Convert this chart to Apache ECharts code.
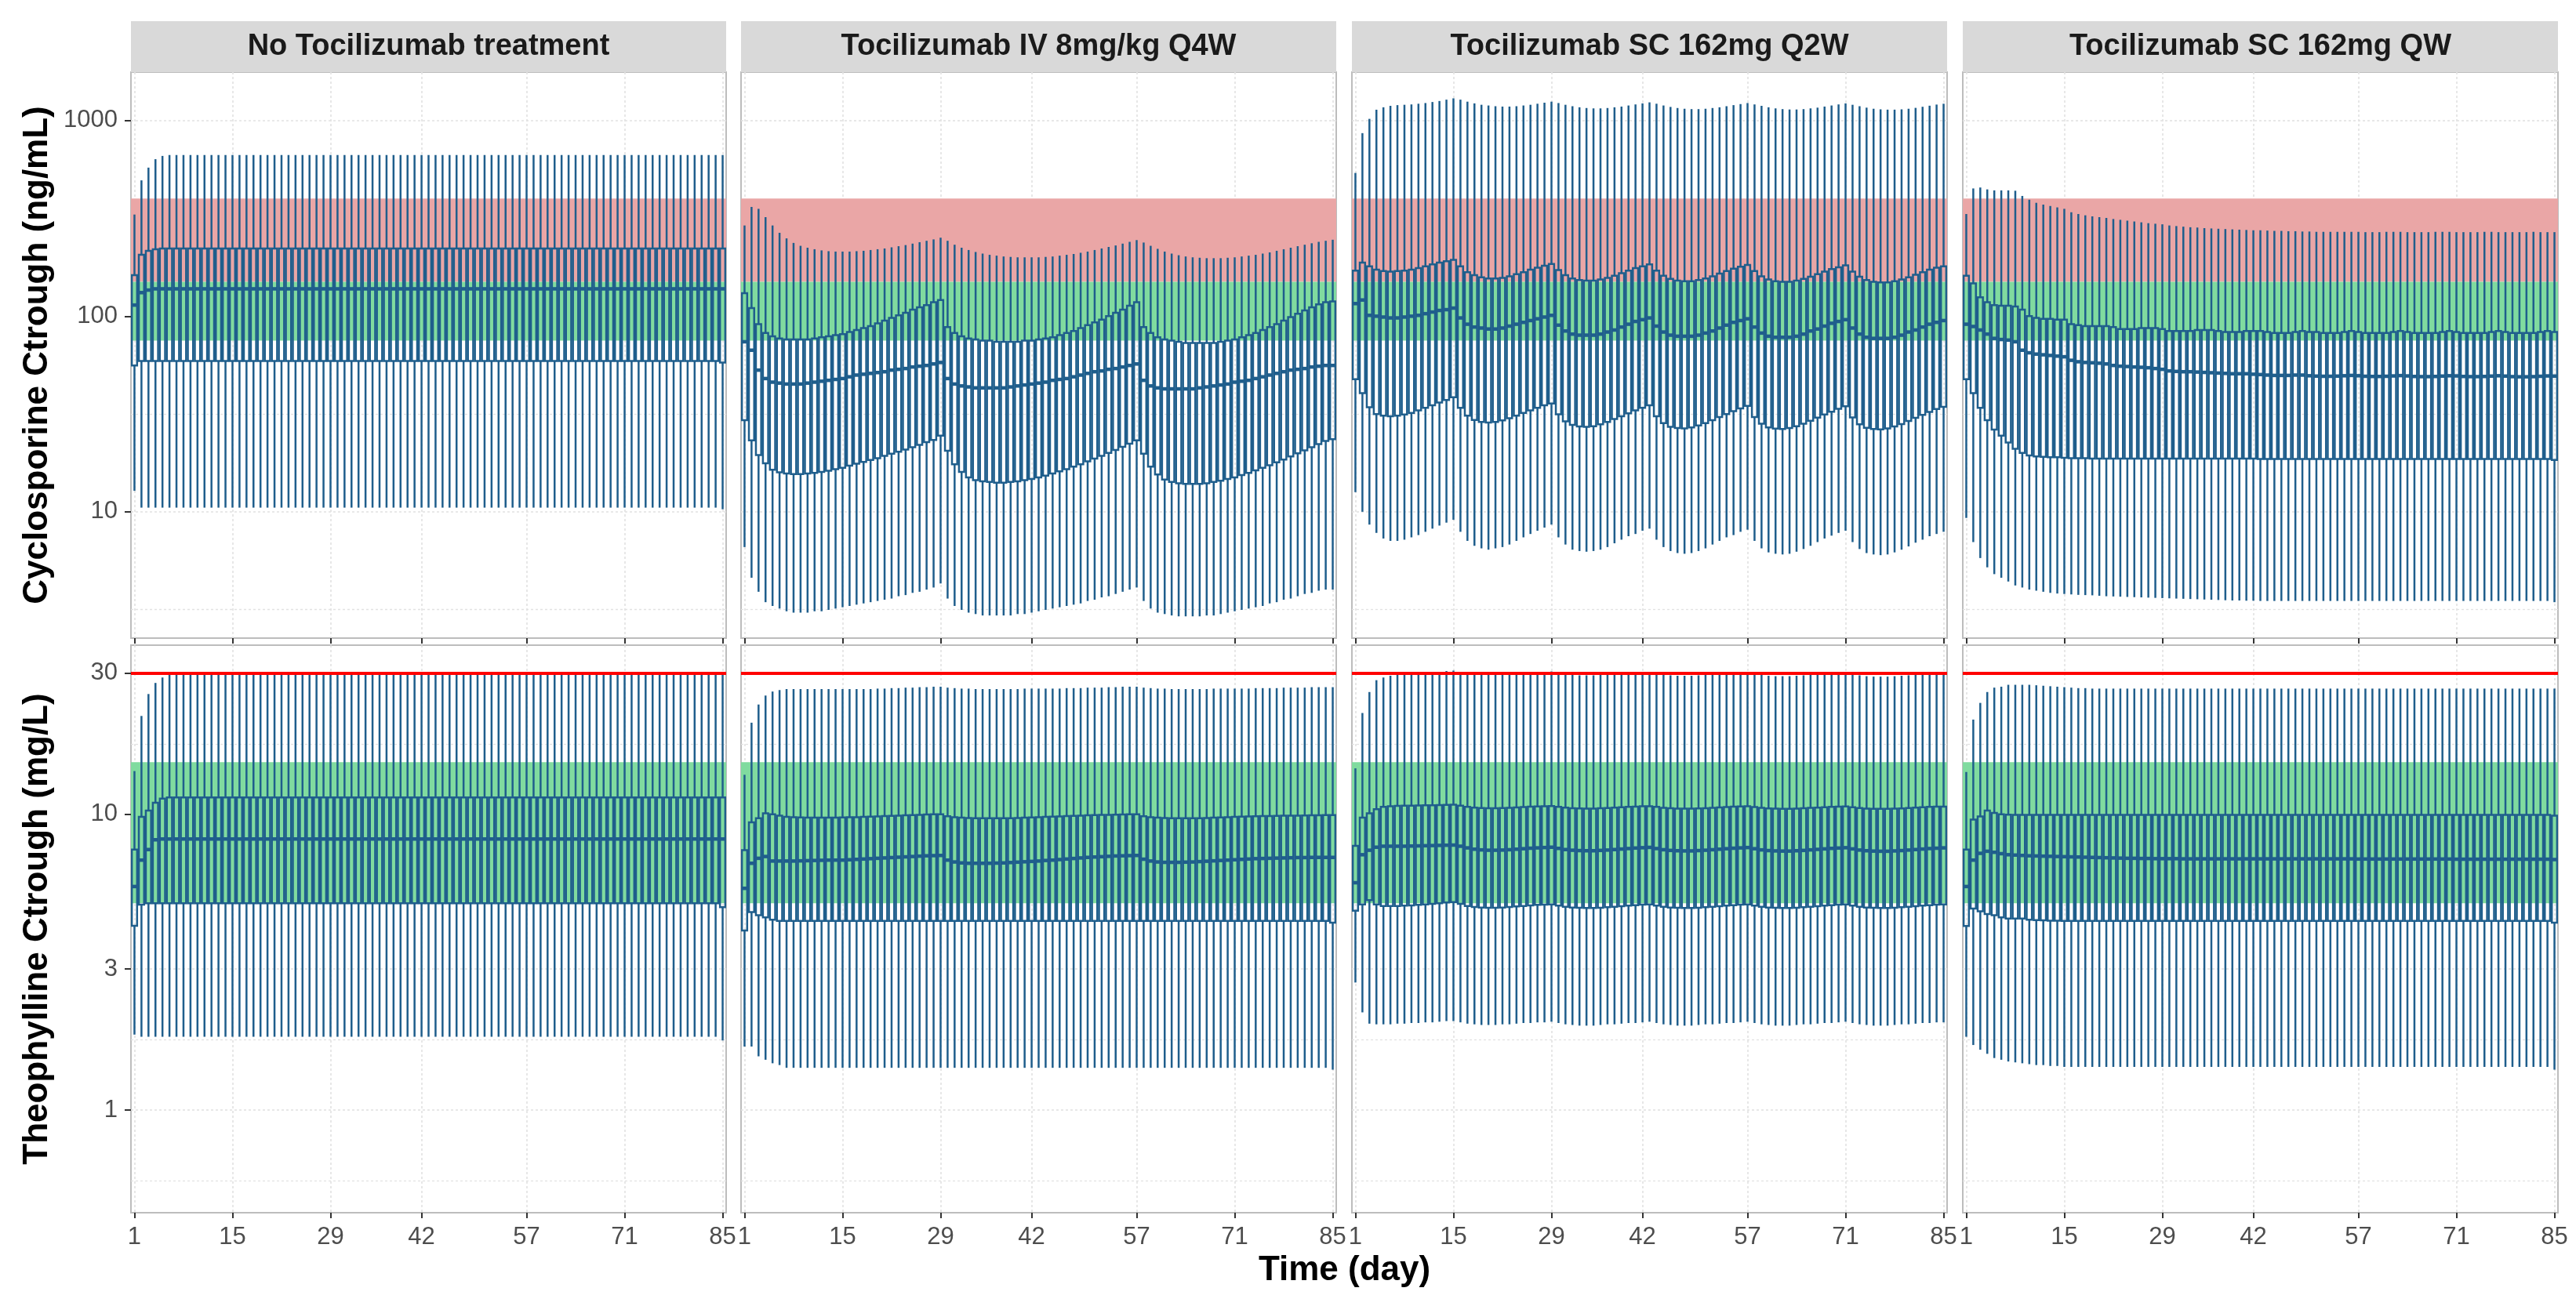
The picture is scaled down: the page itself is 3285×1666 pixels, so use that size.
<!DOCTYPE html>
<html>
<head>
<meta charset="utf-8">
<title>Cyclosporine and Theophylline Ctrough by Tocilizumab regimen</title>
<script src="https://cdn.jsdelivr.net/npm/echarts@6/dist/echarts.min.js"></script>
<style>
  html, body { margin: 0; padding: 0; background: #fff; }
  #chart { width: 3285px; height: 1666px; }
</style>
</head>
<body>
<div id="chart"></div>
<script>
// x categories (study day) and axis breaks
const days = [
  1, 2, 3, 4, 5, 6, 7, 8, 9, 10, 11, 12, 13, 14,
  15, 16, 17, 18, 19, 20, 21, 22, 23, 24, 25, 26, 27, 28,
  29, 30, 31, 32, 33, 34, 35, 36, 37, 38, 39, 40, 41, 42,
  43, 44, 45, 46, 47, 48, 49, 50, 51, 52, 53, 54, 55, 56,
  57, 58, 59, 60, 61, 62, 63, 64, 65, 66, 67, 68, 69, 70,
  71, 72, 73, 74, 75, 76, 77, 78, 79, 80, 81, 82, 83, 84,
  85
]
const dayTicks = [1, 15, 29, 42, 57, 71, 85]
const cycTicks = [10, 100, 1000]
const cycMinorBreaks = [3.16, 31.6, 316]
const theoTicks = [1, 3, 10, 30]
const theoMinorBreaks = [0.577, 1.73, 5.48, 17.3]
const treatments = [
  'No Tocilizumab treatment',
  'Tocilizumab IV 8mg/kg Q4W',
  'Tocilizumab SC 162mg Q2W',
  'Tocilizumab SC 162mg QW'
]
// reference ranges
const cycToxicRange = [150, 400]
const cycTherapeuticRange = [75, 150]
const theoTherapeuticRange = [5, 15]
const theoToxicLimit = 30

// ---- Cyclosporine Ctrough (ng/mL): whisker low, Q1, median, Q3, whisker high ----
// No Tocilizumab
const cycNoneLo = [
  12.8, 10.5, 10.5, 10.5, 10.5, 10.5, 10.5, 10.5, 10.5, 10.5, 10.5, 10.5, 10.5, 10.5,
  10.5, 10.5, 10.5, 10.5, 10.5, 10.5, 10.5, 10.5, 10.5, 10.5, 10.5, 10.5, 10.5, 10.5,
  10.5, 10.5, 10.5, 10.5, 10.5, 10.5, 10.5, 10.5, 10.5, 10.5, 10.5, 10.5, 10.5, 10.5,
  10.5, 10.5, 10.5, 10.5, 10.5, 10.5, 10.5, 10.5, 10.5, 10.5, 10.5, 10.5, 10.5, 10.5,
  10.5, 10.5, 10.5, 10.5, 10.5, 10.5, 10.5, 10.5, 10.5, 10.5, 10.5, 10.5, 10.5, 10.5,
  10.5, 10.5, 10.5, 10.5, 10.5, 10.5, 10.5, 10.5, 10.5, 10.5, 10.5, 10.5, 10.5, 10.5,
  10.3
]
const cycNoneQ1 = [
  56, 59, 59, 59, 59, 59, 59, 59, 59, 59, 59, 59, 59, 59,
  59, 59, 59, 59, 59, 59, 59, 59, 59, 59, 59, 59, 59, 59,
  59, 59, 59, 59, 59, 59, 59, 59, 59, 59, 59, 59, 59, 59,
  59, 59, 59, 59, 59, 59, 59, 59, 59, 59, 59, 59, 59, 59,
  59, 59, 59, 59, 59, 59, 59, 59, 59, 59, 59, 59, 59, 59,
  59, 59, 59, 59, 59, 59, 59, 59, 59, 59, 59, 59, 59, 59,
  58
]
const cycNoneMed = [
  114, 132, 136, 138, 138, 138, 138, 138, 138, 138, 138, 138, 138, 138,
  138, 138, 138, 138, 138, 138, 138, 138, 138, 138, 138, 138, 138, 138,
  138, 138, 138, 138, 138, 138, 138, 138, 138, 138, 138, 138, 138, 138,
  138, 138, 138, 138, 138, 138, 138, 138, 138, 138, 138, 138, 138, 138,
  138, 138, 138, 138, 138, 138, 138, 138, 138, 138, 138, 138, 138, 138,
  138, 138, 138, 138, 138, 138, 138, 138, 138, 138, 138, 138, 138, 138,
  138
]
const cycNoneQ3 = [
  162, 206, 216, 220, 222, 222, 222, 222, 222, 222, 222, 222, 222, 222,
  222, 222, 222, 222, 222, 222, 222, 222, 222, 222, 222, 222, 222, 222,
  222, 222, 222, 222, 222, 222, 222, 222, 222, 222, 222, 222, 222, 222,
  222, 222, 222, 222, 222, 222, 222, 222, 222, 222, 222, 222, 222, 222,
  222, 222, 222, 222, 222, 222, 222, 222, 222, 222, 222, 222, 222, 222,
  222, 222, 222, 222, 222, 222, 222, 222, 222, 222, 222, 222, 222, 222,
  222
]
const cycNoneHi = [
  331, 495, 575, 635, 660, 667, 667, 667, 667, 667, 667, 667, 667, 667,
  667, 667, 667, 667, 667, 667, 667, 667, 667, 667, 667, 667, 667, 667,
  667, 667, 667, 667, 667, 667, 667, 667, 667, 667, 667, 667, 667, 667,
  667, 667, 667, 667, 667, 667, 667, 667, 667, 667, 667, 667, 667, 667,
  667, 667, 667, 667, 667, 667, 667, 667, 667, 667, 667, 667, 667, 667,
  667, 667, 667, 667, 667, 667, 667, 667, 667, 667, 667, 667, 667, 667,
  667
]
// Tocilizumab IV 8mg/kg Q4W
const cycIvLo = [
  6.6, 4.6, 3.9, 3.45, 3.3, 3.2, 3.1, 3.05, 3.05, 3.05, 3.1, 3.1, 3.15, 3.2,
  3.25, 3.3, 3.35, 3.4, 3.45, 3.5, 3.55, 3.6, 3.7, 3.75, 3.85, 3.9, 4.0, 4.1,
  4.3, 3.6, 3.3, 3.15, 3.05, 3.0, 2.95, 2.95, 2.95, 2.95, 2.95, 3.0, 3.0, 3.05,
  3.1, 3.15, 3.2, 3.25, 3.3, 3.35, 3.4, 3.5, 3.55, 3.65, 3.7, 3.8, 3.9, 4.0,
  4.1, 3.5, 3.2, 3.05, 3.0, 2.95, 2.92, 2.92, 2.92, 2.92, 2.95, 2.95, 3.0, 3.05,
  3.1, 3.15, 3.2, 3.25, 3.3, 3.4, 3.45, 3.55, 3.6, 3.7, 3.8, 3.85, 3.95, 4.0,
  4.0
]
const cycIvQ1 = [
  29.4, 23.2, 19.5, 17.7, 16.4, 15.9, 15.7, 15.6, 15.6, 15.7, 15.8, 16.0, 16.2, 16.5,
  16.8, 17.2, 17.6, 18.0, 18.4, 18.8, 19.3, 19.8, 20.3, 20.8, 21.4, 22.0, 22.7, 23.3,
  24.5, 20.5, 17.5, 16.0, 15.0, 14.5, 14.3, 14.2, 14.1, 14.1, 14.2, 14.3, 14.5, 14.7,
  15.0, 15.3, 15.7, 16.1, 16.5, 17.0, 17.5, 18.1, 18.7, 19.3, 20.0, 20.7, 21.5, 22.3,
  23.2, 19.8, 17.0, 15.5, 14.6, 14.2, 14.0, 13.9, 13.9, 13.9, 14.0, 14.2, 14.4, 14.7,
  15.0, 15.4, 15.8, 16.3, 16.8, 17.3, 17.9, 18.5, 19.2, 19.9, 20.6, 21.4, 22.2, 23.0,
  23.5
]
const cycIvMed = [
  74, 67, 53, 48, 46, 45.5, 45, 45, 45, 45.5, 46, 46.5, 47, 47.5,
  48, 49, 50, 50.5, 51, 51.5, 52, 53, 53.5, 54, 55, 55.5, 56, 57,
  58, 48, 45, 44, 43.5, 43, 43, 43, 43, 43, 43.5, 44, 44.5, 45,
  45.5, 46, 47, 47.5, 48, 49, 50, 51, 52, 52.5, 53.5, 54, 55, 56,
  57, 47, 44, 43, 42.5, 42.5, 42.5, 42.5, 42.5, 43, 43.5, 44, 44.5, 45,
  46, 46.5, 47, 48, 49, 50, 51, 52, 53, 53.5, 54, 55, 55.5, 56,
  56
]
const cycIvQ3 = [
  131, 110, 91, 82, 79, 77, 76, 76, 76, 76, 77, 78, 79, 80,
  81, 83, 85, 87, 89, 92, 95, 98, 101, 104, 108, 111, 114, 118,
  121, 88, 82, 79, 77, 76, 75, 75, 74, 74, 74, 74, 75, 75,
  76, 77, 78, 80, 82, 84, 87, 90, 93, 96, 100, 104, 108, 113,
  118, 88, 82, 78, 76, 75, 74, 73, 73, 73, 73, 73, 74, 75,
  76, 78, 80, 82, 85, 88, 91, 95, 99, 103, 107, 111, 115, 118,
  119
]
const cycIvHi = [
  291, 362, 354, 321, 291, 267, 250, 237, 229, 224, 220, 217, 215, 214,
  214, 214, 215, 216, 218, 220, 222, 225, 228, 231, 235, 239, 243, 247,
  252, 243, 232, 224, 218, 213, 209, 206, 204, 202, 201, 200, 200, 200,
  200, 201, 202, 204, 206, 208, 211, 214, 218, 222, 226, 230, 235, 240,
  245, 238, 229, 221, 214, 209, 205, 202, 200, 199, 198, 198, 198, 199,
  200, 202, 204, 206, 209, 212, 216, 220, 224, 228, 232, 236, 240, 243,
  246
]
// Tocilizumab SC 162mg Q2W
const cycQ2wLo = [
  12.6, 10.0, 8.6, 7.8, 7.3, 7.1, 7.1, 7.2, 7.4, 7.6, 7.9, 8.2, 8.5, 8.8,
  9.1, 7.9, 7.1, 6.7, 6.5, 6.4, 6.5, 6.6, 6.8, 7.1, 7.4, 7.7, 8.0, 8.3,
  8.6, 7.4, 6.8, 6.4, 6.3, 6.25, 6.3, 6.4, 6.6, 6.9, 7.2, 7.5, 7.7, 8.0,
  8.2, 7.2, 6.6, 6.3, 6.15, 6.1, 6.15, 6.3, 6.5, 6.8, 7.1, 7.4, 7.6, 7.9,
  8.1, 7.1, 6.5, 6.2, 6.1, 6.05, 6.1, 6.25, 6.45, 6.7, 7.0, 7.3, 7.55, 7.8,
  8.0, 7.0, 6.45, 6.15, 6.05, 6.0, 6.05, 6.2, 6.4, 6.65, 6.95, 7.2, 7.5, 7.7,
  7.9
]
const cycQ2wQ1 = [
  47.6, 40.4, 34.2, 31.6, 31.0, 30.8, 31.0, 31.4, 32.0, 33.0, 34.0, 35.0, 36.2, 37.3,
  38.5, 34.0, 31.0, 29.5, 28.8, 28.6, 28.8, 29.3, 30.1, 31.0, 32.0, 33.0, 34.0, 35.0,
  35.8, 31.5, 29.0, 27.8, 27.3, 27.2, 27.4, 28.0, 28.8, 29.8, 30.8, 31.9, 33.0, 34.0,
  35.0, 30.8, 28.4, 27.2, 26.8, 26.7, 27.0, 27.6, 28.4, 29.4, 30.5, 31.6, 32.7, 33.8,
  34.8, 30.5, 28.2, 27.0, 26.6, 26.5, 26.8, 27.4, 28.2, 29.2, 30.3, 31.4, 32.5, 33.6,
  34.6, 30.4, 28.0, 26.9, 26.5, 26.4, 26.7, 27.3, 28.1, 29.1, 30.2, 31.3, 32.4, 33.5,
  34.4
]
const cycQ2wMed = [
  116, 121, 101, 100, 99, 98, 98, 99, 100, 101, 103, 105, 107, 108,
  110, 98, 91, 88, 87, 86, 86, 87, 89, 91, 93, 95, 97, 99,
  101, 90, 84, 81, 80, 80, 80, 81, 83, 85, 88, 91, 94, 96,
  98, 89, 83, 80, 79, 79, 79, 80, 82, 84, 87, 90, 93, 95,
  97, 88, 82, 79, 78, 78, 78, 79, 81, 84, 86, 89, 92, 94,
  96, 87, 81, 78, 77, 77, 77, 78, 80, 83, 85, 88, 91, 93,
  95
]
const cycQ2wQ3 = [
  171, 188, 180, 173, 170, 169, 170, 171, 173, 176, 180, 184, 188, 191,
  194, 180, 168, 162, 158, 156, 156, 157, 160, 164, 168, 173, 177, 181,
  185, 172, 162, 156, 153, 152, 152, 154, 157, 161, 166, 171, 176, 180,
  184, 171, 161, 155, 152, 151, 151, 153, 156, 160, 165, 170, 175, 179,
  183, 170, 160, 154, 151, 150, 150, 152, 155, 159, 164, 169, 174, 178,
  182, 169, 159, 153, 150, 149, 149, 151, 154, 158, 163, 168, 173, 177,
  180
]
const cycQ2wHi = [
  540, 863, 1021, 1137, 1170, 1190, 1200, 1205, 1210, 1220, 1230, 1245, 1260, 1280,
  1300, 1280, 1250, 1225, 1205, 1195, 1185, 1180, 1180, 1185, 1195, 1205, 1220, 1235,
  1250, 1230, 1205, 1185, 1170, 1160, 1155, 1155, 1160, 1170, 1180, 1195, 1210, 1225,
  1240, 1220, 1195, 1175, 1160, 1150, 1145, 1145, 1150, 1160, 1170, 1185, 1200, 1215,
  1230, 1210, 1190, 1170, 1155, 1145, 1140, 1140, 1145, 1155, 1165, 1180, 1195, 1210,
  1225, 1205, 1185, 1165, 1150, 1142, 1138, 1138, 1142, 1150, 1162, 1177, 1192, 1208,
  1220
]
// Tocilizumab SC 162mg QW
const cycQwLo = [
  9.3, 7.0, 5.8, 5.2, 4.8, 4.6, 4.4, 4.2, 4.1, 4.0, 3.95, 3.9, 3.85, 3.82,
  3.8, 3.78, 3.76, 3.75, 3.74, 3.72, 3.7, 3.69, 3.68, 3.67, 3.66, 3.65, 3.64, 3.63,
  3.62, 3.61, 3.6, 3.59, 3.58, 3.57, 3.56, 3.55, 3.54, 3.53, 3.52, 3.52, 3.51, 3.51,
  3.5, 3.5, 3.5, 3.5, 3.5, 3.5, 3.5, 3.5, 3.5, 3.5, 3.5, 3.5, 3.5, 3.5,
  3.5, 3.5, 3.5, 3.5, 3.5, 3.5, 3.5, 3.5, 3.5, 3.5, 3.5, 3.5, 3.5, 3.5,
  3.5, 3.5, 3.5, 3.5, 3.5, 3.5, 3.5, 3.5, 3.5, 3.5, 3.5, 3.5, 3.5, 3.5,
  3.45
]
const cycQwQ1 = [
  47.6, 40.4, 34.0, 29.4, 26.3, 24.5, 22.6, 21.0, 20.0, 19.4, 19.2, 19.1, 19.0, 19.0,
  18.9, 18.8, 18.8, 18.8, 18.7, 18.7, 18.7, 18.7, 18.7, 18.7, 18.7, 18.7, 18.7, 18.7,
  18.7, 18.7, 18.7, 18.7, 18.7, 18.7, 18.7, 18.7, 18.7, 18.7, 18.7, 18.7, 18.7, 18.7,
  18.6, 18.6, 18.6, 18.6, 18.6, 18.6, 18.6, 18.6, 18.6, 18.6, 18.6, 18.6, 18.6, 18.6,
  18.6, 18.6, 18.6, 18.6, 18.6, 18.6, 18.6, 18.6, 18.6, 18.6, 18.6, 18.6, 18.6, 18.6,
  18.6, 18.6, 18.6, 18.6, 18.6, 18.6, 18.6, 18.6, 18.6, 18.6, 18.6, 18.6, 18.6, 18.6,
  18.4
]
const cycQwMed = [
  91, 88.6, 85, 81, 77, 76, 75.5, 74, 67, 65, 64, 63.5, 63, 62.5,
  62, 59.5, 58.5, 58, 57.8, 57.5, 57, 56, 55.5, 55.3, 55, 54.8, 54.5, 54,
  53.5, 52.5, 52.2, 52, 52, 51.8, 51.6, 51.4, 51.2, 51, 50.8, 50.8, 50.8, 50.5,
  50.3, 50, 49.8, 49.8, 49.8, 50, 50, 49.6, 49.4, 49.3, 49.3, 49.4, 49.6, 49.8,
  49.6, 49.3, 49.2, 49.2, 49.3, 49.5, 49.7, 49.5, 49.2, 49.1, 49.1, 49.2, 49.4, 49.6,
  49.5, 49.2, 49.1, 49.1, 49.2, 49.4, 49.6, 49.4, 49.1, 49.0, 49.0, 49.1, 49.3, 49.5,
  49.4
]
const cycQwQ3 = [
  161, 147, 125, 118, 114, 113, 113, 112, 108, 100, 98, 97, 97, 96,
  96, 91, 90, 89, 89, 89, 89, 88, 86, 86, 86, 87, 87, 87,
  86, 84, 84, 84, 84, 85, 85, 85, 84, 83, 83, 83, 84, 84,
  84, 83, 82, 82, 82, 83, 84, 83, 83, 82, 82, 82, 83, 84,
  83, 82, 82, 82, 82, 83, 84, 83, 82, 82, 82, 82, 83, 84,
  83, 82, 82, 82, 82, 83, 84, 83, 82, 82, 82, 82, 83, 84,
  83
]
const cycQwHi = [
  333, 450, 455, 445, 440, 440, 440, 438, 412, 394, 380, 372, 366, 360,
  354, 340, 333, 328, 324, 321, 318, 314, 311, 308, 305, 302, 299, 297,
  295, 291, 289, 287, 285, 284, 282, 281, 280, 279, 278, 277, 276, 275,
  275, 274, 273, 273, 272, 272, 271, 271, 270, 270, 270, 270, 270, 270,
  270, 269, 269, 269, 270, 270, 270, 269, 269, 269, 269, 270, 270, 270,
  269, 269, 269, 269, 270, 270, 269, 269, 269, 269, 269, 270, 269, 269,
  269
]

// ---- Theophylline Ctrough (mg/L) ----
// No Tocilizumab
const theoNoneLo = [
  1.8, 1.77, 1.77, 1.77, 1.77, 1.77, 1.77, 1.77, 1.77, 1.77, 1.77, 1.77, 1.77, 1.77,
  1.77, 1.77, 1.77, 1.77, 1.77, 1.77, 1.77, 1.77, 1.77, 1.77, 1.77, 1.77, 1.77, 1.77,
  1.77, 1.77, 1.77, 1.77, 1.77, 1.77, 1.77, 1.77, 1.77, 1.77, 1.77, 1.77, 1.77, 1.77,
  1.77, 1.77, 1.77, 1.77, 1.77, 1.77, 1.77, 1.77, 1.77, 1.77, 1.77, 1.77, 1.77, 1.77,
  1.77, 1.77, 1.77, 1.77, 1.77, 1.77, 1.77, 1.77, 1.77, 1.77, 1.77, 1.77, 1.77, 1.77,
  1.77, 1.77, 1.77, 1.77, 1.77, 1.77, 1.77, 1.77, 1.77, 1.77, 1.77, 1.77, 1.77, 1.77,
  1.72
]
const theoNoneQ1 = [
  4.2, 4.95, 5.0, 5.0, 5.0, 5.0, 5.0, 5.0, 5.0, 5.0, 5.0, 5.0, 5.0, 5.0,
  5.0, 5.0, 5.0, 5.0, 5.0, 5.0, 5.0, 5.0, 5.0, 5.0, 5.0, 5.0, 5.0, 5.0,
  5.0, 5.0, 5.0, 5.0, 5.0, 5.0, 5.0, 5.0, 5.0, 5.0, 5.0, 5.0, 5.0, 5.0,
  5.0, 5.0, 5.0, 5.0, 5.0, 5.0, 5.0, 5.0, 5.0, 5.0, 5.0, 5.0, 5.0, 5.0,
  5.0, 5.0, 5.0, 5.0, 5.0, 5.0, 5.0, 5.0, 5.0, 5.0, 5.0, 5.0, 5.0, 5.0,
  5.0, 5.0, 5.0, 5.0, 5.0, 5.0, 5.0, 5.0, 5.0, 5.0, 5.0, 5.0, 5.0, 5.0,
  4.85
]
const theoNoneMed = [
  5.7, 7.0, 7.6, 8.2, 8.25, 8.25, 8.25, 8.25, 8.25, 8.25, 8.25, 8.25, 8.25, 8.25,
  8.25, 8.25, 8.25, 8.25, 8.25, 8.25, 8.25, 8.25, 8.25, 8.25, 8.25, 8.25, 8.25, 8.25,
  8.25, 8.25, 8.25, 8.25, 8.25, 8.25, 8.25, 8.25, 8.25, 8.25, 8.25, 8.25, 8.25, 8.25,
  8.25, 8.25, 8.25, 8.25, 8.25, 8.25, 8.25, 8.25, 8.25, 8.25, 8.25, 8.25, 8.25, 8.25,
  8.25, 8.25, 8.25, 8.25, 8.25, 8.25, 8.25, 8.25, 8.25, 8.25, 8.25, 8.25, 8.25, 8.25,
  8.25, 8.25, 8.25, 8.25, 8.25, 8.25, 8.25, 8.25, 8.25, 8.25, 8.25, 8.25, 8.25, 8.25,
  8.25
]
const theoNoneQ3 = [
  7.6, 9.8, 10.3, 10.95, 11.3, 11.4, 11.4, 11.4, 11.4, 11.4, 11.4, 11.4, 11.4, 11.4,
  11.4, 11.4, 11.4, 11.4, 11.4, 11.4, 11.4, 11.4, 11.4, 11.4, 11.4, 11.4, 11.4, 11.4,
  11.4, 11.4, 11.4, 11.4, 11.4, 11.4, 11.4, 11.4, 11.4, 11.4, 11.4, 11.4, 11.4, 11.4,
  11.4, 11.4, 11.4, 11.4, 11.4, 11.4, 11.4, 11.4, 11.4, 11.4, 11.4, 11.4, 11.4, 11.4,
  11.4, 11.4, 11.4, 11.4, 11.4, 11.4, 11.4, 11.4, 11.4, 11.4, 11.4, 11.4, 11.4, 11.4,
  11.4, 11.4, 11.4, 11.4, 11.4, 11.4, 11.4, 11.4, 11.4, 11.4, 11.4, 11.4, 11.4, 11.4,
  11.4
]
const theoNoneHi = [
  14, 21.5, 25.5, 27.8, 29, 29.6, 30, 30, 30, 30, 30, 30, 30, 30,
  30, 30, 30, 30, 30, 30, 30, 30, 30, 30, 30, 30, 30, 30,
  30, 30, 30, 30, 30, 30, 30, 30, 30, 30, 30, 30, 30, 30,
  30, 30, 30, 30, 30, 30, 30, 30, 30, 30, 30, 30, 30, 30,
  30, 30, 30, 30, 30, 30, 30, 30, 30, 30, 30, 30, 30, 30,
  30, 30, 30, 30, 30, 30, 30, 30, 30, 30, 30, 30, 30, 30,
  30
]
// Tocilizumab IV 8mg/kg Q4W
const theoIvLo = [
  1.64, 1.64, 1.52, 1.48, 1.44, 1.42, 1.39, 1.39, 1.39, 1.39, 1.39, 1.39, 1.39, 1.39,
  1.39, 1.39, 1.39, 1.39, 1.39, 1.39, 1.39, 1.39, 1.39, 1.39, 1.39, 1.39, 1.39, 1.39,
  1.39, 1.39, 1.39, 1.39, 1.39, 1.39, 1.39, 1.39, 1.39, 1.39, 1.39, 1.39, 1.39, 1.39,
  1.39, 1.39, 1.39, 1.39, 1.39, 1.39, 1.39, 1.39, 1.39, 1.39, 1.39, 1.39, 1.39, 1.39,
  1.39, 1.39, 1.39, 1.39, 1.39, 1.39, 1.39, 1.39, 1.39, 1.39, 1.39, 1.39, 1.39, 1.39,
  1.39, 1.39, 1.39, 1.39, 1.39, 1.39, 1.39, 1.39, 1.39, 1.39, 1.39, 1.39, 1.39, 1.39,
  1.37
]
const theoIvQ1 = [
  4.05, 4.67, 4.56, 4.48, 4.4, 4.36, 4.36, 4.36, 4.36, 4.36, 4.36, 4.36, 4.36, 4.36,
  4.36, 4.36, 4.36, 4.36, 4.36, 4.36, 4.36, 4.36, 4.36, 4.36, 4.36, 4.36, 4.36, 4.36,
  4.36, 4.36, 4.36, 4.36, 4.36, 4.36, 4.36, 4.36, 4.36, 4.36, 4.36, 4.36, 4.36, 4.36,
  4.36, 4.36, 4.36, 4.36, 4.36, 4.36, 4.36, 4.36, 4.36, 4.36, 4.36, 4.36, 4.36, 4.36,
  4.36, 4.36, 4.36, 4.36, 4.36, 4.36, 4.36, 4.36, 4.36, 4.36, 4.36, 4.36, 4.36, 4.36,
  4.36, 4.36, 4.36, 4.36, 4.36, 4.36, 4.36, 4.36, 4.36, 4.36, 4.36, 4.36, 4.36, 4.36,
  4.3
]
const theoIvMed = [
  5.62, 6.83, 7.1, 7.2, 6.95, 6.95, 6.95, 6.95, 6.96, 6.97, 6.98, 6.99, 7.0, 7.0,
  7.0, 7.02, 7.04, 7.06, 7.08, 7.1, 7.12, 7.14, 7.16, 7.18, 7.2, 7.22, 7.24, 7.25,
  7.26, 7.0, 6.9, 6.85, 6.83, 6.83, 6.83, 6.83, 6.84, 6.85, 6.87, 6.89, 6.91, 6.93,
  6.95, 6.98, 7.0, 7.03, 7.06, 7.09, 7.12, 7.15, 7.17, 7.19, 7.21, 7.23, 7.24, 7.25,
  7.26, 7.05, 6.95, 6.9, 6.88, 6.88, 6.88, 6.89, 6.9, 6.92, 6.94, 6.96, 6.98, 7.0,
  7.02, 7.04, 7.06, 7.08, 7.09, 7.1, 7.11, 7.12, 7.13, 7.14, 7.14, 7.15, 7.15, 7.15,
  7.15
]
const theoIvQ3 = [
  7.56, 9.4, 9.7, 10.07, 10.0, 9.9, 9.8, 9.78, 9.76, 9.75, 9.75, 9.75, 9.75, 9.75,
  9.76, 9.77, 9.78, 9.8, 9.82, 9.84, 9.86, 9.88, 9.9, 9.92, 9.94, 9.96, 9.98, 10.0,
  10.0, 9.85, 9.78, 9.74, 9.72, 9.7, 9.7, 9.7, 9.7, 9.7, 9.7, 9.72, 9.74, 9.76,
  9.78, 9.8, 9.82, 9.84, 9.86, 9.88, 9.9, 9.92, 9.94, 9.95, 9.96, 9.97, 9.98, 10.0,
  10.0, 9.85, 9.78, 9.74, 9.72, 9.7, 9.7, 9.7, 9.7, 9.7, 9.72, 9.74, 9.76, 9.78,
  9.8, 9.82, 9.84, 9.85, 9.86, 9.87, 9.88, 9.89, 9.9, 9.9, 9.91, 9.92, 9.93, 9.94,
  9.94
]
const theoIvHi = [
  13.6, 20.4, 23.5, 25.2, 26.0, 26.3, 26.5, 26.5, 26.5, 26.5, 26.5, 26.5, 26.5, 26.5,
  26.5, 26.5, 26.5, 26.5, 26.5, 26.6, 26.6, 26.7, 26.7, 26.8, 26.8, 26.9, 26.9, 27.0,
  27.0, 26.8, 26.7, 26.6, 26.6, 26.5, 26.5, 26.5, 26.5, 26.5, 26.5, 26.5, 26.6, 26.6,
  26.6, 26.6, 26.6, 26.6, 26.7, 26.7, 26.7, 26.8, 26.8, 26.8, 26.9, 26.9, 27.0, 27.0,
  27.0, 26.8, 26.7, 26.6, 26.6, 26.5, 26.5, 26.5, 26.5, 26.5, 26.5, 26.6, 26.6, 26.6,
  26.6, 26.6, 26.6, 26.7, 26.7, 26.7, 26.7, 26.8, 26.8, 26.8, 26.8, 26.9, 26.9, 26.9,
  26.9
]
// Tocilizumab SC 162mg Q2W
const theoQ2wLo = [
  2.7, 2.14, 1.96, 1.95, 1.95, 1.95, 1.96, 1.96, 1.97, 1.97, 1.98, 1.98, 1.99, 2.0,
  2.0, 1.98, 1.96, 1.95, 1.94, 1.94, 1.94, 1.95, 1.95, 1.96, 1.97, 1.97, 1.98, 1.98,
  1.99, 1.97, 1.95, 1.94, 1.93, 1.93, 1.93, 1.94, 1.95, 1.95, 1.96, 1.97, 1.97, 1.98,
  1.99, 1.97, 1.95, 1.94, 1.93, 1.93, 1.93, 1.94, 1.95, 1.95, 1.96, 1.97, 1.97, 1.98,
  1.99, 1.97, 1.95, 1.94, 1.93, 1.93, 1.93, 1.94, 1.95, 1.95, 1.96, 1.97, 1.97, 1.98,
  1.99, 1.97, 1.95, 1.94, 1.93, 1.93, 1.93, 1.94, 1.95, 1.95, 1.96, 1.97, 1.97, 1.98,
  1.98
]
const theoQ2wQ1 = [
  4.72, 4.96, 5.13, 4.96, 4.9, 4.9, 4.9, 4.91, 4.92, 4.94, 4.96, 4.98, 5.0, 5.03,
  5.05, 4.98, 4.9, 4.86, 4.84, 4.83, 4.83, 4.84, 4.86, 4.88, 4.9, 4.92, 4.94, 4.95,
  4.96, 4.91, 4.87, 4.84, 4.83, 4.82, 4.82, 4.83, 4.85, 4.87, 4.89, 4.91, 4.93, 4.95,
  4.96, 4.91, 4.87, 4.84, 4.83, 4.82, 4.82, 4.83, 4.85, 4.87, 4.89, 4.91, 4.93, 4.95,
  4.96, 4.91, 4.87, 4.84, 4.83, 4.82, 4.82, 4.83, 4.85, 4.87, 4.89, 4.91, 4.93, 4.95,
  4.96, 4.91, 4.87, 4.84, 4.83, 4.82, 4.82, 4.83, 4.85, 4.87, 4.89, 4.91, 4.93, 4.95,
  4.96
]
const theoQ2wMed = [
  5.87, 7.3, 7.56, 7.74, 7.8, 7.8, 7.8, 7.8, 7.81, 7.82, 7.83, 7.84, 7.85, 7.86,
  7.87, 7.8, 7.7, 7.62, 7.58, 7.56, 7.56, 7.57, 7.59, 7.62, 7.65, 7.68, 7.7, 7.72,
  7.74, 7.67, 7.6, 7.56, 7.54, 7.53, 7.53, 7.55, 7.57, 7.6, 7.63, 7.66, 7.69, 7.71,
  7.73, 7.66, 7.59, 7.55, 7.53, 7.52, 7.52, 7.54, 7.56, 7.59, 7.62, 7.65, 7.68, 7.7,
  7.72, 7.65, 7.58, 7.54, 7.52, 7.51, 7.51, 7.53, 7.55, 7.58, 7.61, 7.64, 7.67, 7.69,
  7.71, 7.64, 7.57, 7.53, 7.51, 7.5, 7.5, 7.52, 7.54, 7.57, 7.6, 7.63, 7.66, 7.68,
  7.7
]
const theoQ2wQ3 = [
  7.82, 9.74, 10.07, 10.4, 10.6, 10.65, 10.68, 10.7, 10.7, 10.71, 10.72, 10.73, 10.75, 10.76,
  10.77, 10.7, 10.6, 10.53, 10.5, 10.48, 10.48, 10.5, 10.52, 10.55, 10.58, 10.61, 10.63, 10.65,
  10.66, 10.6, 10.53, 10.49, 10.47, 10.46, 10.46, 10.48, 10.5, 10.53, 10.56, 10.59, 10.62, 10.64,
  10.65, 10.59, 10.52, 10.48, 10.46, 10.45, 10.45, 10.47, 10.49, 10.52, 10.55, 10.58, 10.61, 10.63,
  10.64, 10.58, 10.51, 10.47, 10.45, 10.44, 10.44, 10.46, 10.48, 10.51, 10.54, 10.57, 10.6, 10.62,
  10.63, 10.57, 10.5, 10.46, 10.44, 10.43, 10.43, 10.45, 10.47, 10.5, 10.53, 10.56, 10.59, 10.61,
  10.62
]
const theoQ2wHi = [
  14.3, 22.0, 25.9, 28.4, 29.0, 29.4, 29.6, 29.7, 29.8, 29.9, 30.0, 30.2, 30.3, 30.5,
  30.6, 30.2, 29.9, 29.7, 29.6, 29.6, 29.6, 29.7, 29.8, 29.9, 30.0, 30.1, 30.2, 30.3,
  30.4, 30.1, 29.8, 29.6, 29.5, 29.5, 29.5, 29.6, 29.7, 29.8, 29.9, 30.0, 30.1, 30.2,
  30.3, 30.0, 29.7, 29.5, 29.4, 29.4, 29.4, 29.5, 29.6, 29.7, 29.8, 29.9, 30.0, 30.1,
  30.2, 29.9, 29.6, 29.4, 29.3, 29.3, 29.3, 29.4, 29.5, 29.6, 29.7, 29.8, 29.9, 30.0,
  30.1, 29.8, 29.5, 29.3, 29.2, 29.2, 29.2, 29.3, 29.4, 29.5, 29.6, 29.7, 29.8, 29.9,
  30.0
]
// Tocilizumab SC 162mg QW
const theoQwLo = [
  1.77, 1.66, 1.6, 1.55, 1.5, 1.48, 1.46, 1.45, 1.44, 1.43, 1.42, 1.42, 1.41, 1.41,
  1.4, 1.4, 1.4, 1.4, 1.4, 1.4, 1.4, 1.4, 1.4, 1.4, 1.4, 1.4, 1.4, 1.4,
  1.4, 1.4, 1.4, 1.4, 1.4, 1.4, 1.4, 1.4, 1.4, 1.4, 1.4, 1.4, 1.4, 1.4,
  1.4, 1.4, 1.4, 1.4, 1.4, 1.4, 1.4, 1.4, 1.4, 1.4, 1.4, 1.4, 1.4, 1.4,
  1.4, 1.4, 1.4, 1.4, 1.4, 1.4, 1.4, 1.4, 1.4, 1.4, 1.4, 1.4, 1.4, 1.4,
  1.4, 1.4, 1.4, 1.4, 1.4, 1.4, 1.4, 1.4, 1.4, 1.4, 1.4, 1.4, 1.4, 1.4,
  1.37
]
const theoQwQ1 = [
  4.19, 4.8, 4.7, 4.6, 4.56, 4.48, 4.44, 4.44, 4.44, 4.4, 4.39, 4.38, 4.37, 4.37,
  4.36, 4.36, 4.36, 4.36, 4.36, 4.36, 4.36, 4.36, 4.36, 4.36, 4.36, 4.36, 4.36, 4.36,
  4.36, 4.36, 4.36, 4.36, 4.36, 4.36, 4.36, 4.36, 4.36, 4.36, 4.36, 4.36, 4.36, 4.36,
  4.36, 4.36, 4.36, 4.36, 4.36, 4.36, 4.36, 4.36, 4.36, 4.36, 4.36, 4.36, 4.36, 4.36,
  4.36, 4.36, 4.36, 4.36, 4.36, 4.36, 4.36, 4.36, 4.36, 4.36, 4.36, 4.36, 4.36, 4.36,
  4.36, 4.36, 4.36, 4.36, 4.36, 4.36, 4.36, 4.36, 4.36, 4.36, 4.36, 4.36, 4.36, 4.36,
  4.3
]
const theoQwMed = [
  5.7, 7.0, 7.38, 7.5, 7.44, 7.36, 7.3, 7.28, 7.26, 7.24, 7.23, 7.22, 7.21, 7.2,
  7.19, 7.18, 7.17, 7.16, 7.15, 7.14, 7.13, 7.12, 7.11, 7.1, 7.1, 7.09, 7.09, 7.08,
  7.08, 7.08, 7.08, 7.07, 7.07, 7.07, 7.07, 7.07, 7.07, 7.07, 7.07, 7.07, 7.07, 7.07,
  7.07, 7.07, 7.07, 7.07, 7.07, 7.07, 7.07, 7.07, 7.07, 7.07, 7.07, 7.07, 7.07, 7.07,
  7.06, 7.06, 7.06, 7.06, 7.06, 7.06, 7.06, 7.06, 7.06, 7.06, 7.06, 7.06, 7.06, 7.06,
  7.05, 7.05, 7.05, 7.05, 7.05, 7.05, 7.05, 7.05, 7.05, 7.05, 7.05, 7.05, 7.05, 7.05,
  7.03
]
const theoQwQ3 = [
  7.6, 9.6, 9.83, 10.3, 10.1, 10.0, 9.97, 9.95, 9.95, 9.95, 9.95, 9.95, 9.95, 9.95,
  9.95, 9.95, 9.95, 9.95, 9.95, 9.95, 9.95, 9.95, 9.95, 9.95, 9.95, 9.95, 9.95, 9.95,
  9.95, 9.95, 9.95, 9.95, 9.95, 9.95, 9.95, 9.95, 9.95, 9.95, 9.95, 9.95, 9.95, 9.95,
  9.95, 9.95, 9.95, 9.95, 9.95, 9.95, 9.95, 9.95, 9.95, 9.95, 9.95, 9.95, 9.95, 9.95,
  9.95, 9.95, 9.95, 9.95, 9.95, 9.95, 9.95, 9.95, 9.95, 9.95, 9.95, 9.95, 9.95, 9.95,
  9.95, 9.95, 9.95, 9.95, 9.95, 9.95, 9.95, 9.95, 9.95, 9.95, 9.95, 9.95, 9.95, 9.95,
  9.9
]
const theoQwHi = [
  13.9, 20.9, 23.8, 25.9, 26.8, 27.0, 27.4, 27.4, 27.4, 27.4, 27.3, 27.2, 27.1, 27.0,
  26.9, 26.8, 26.7, 26.7, 26.6, 26.6, 26.6, 26.6, 26.6, 26.6, 26.6, 26.6, 26.6, 26.6,
  26.6, 26.6, 26.6, 26.6, 26.6, 26.6, 26.6, 26.6, 26.6, 26.6, 26.6, 26.6, 26.6, 26.6,
  26.6, 26.6, 26.6, 26.6, 26.6, 26.6, 26.6, 26.6, 26.6, 26.6, 26.6, 26.6, 26.6, 26.6,
  26.6, 26.6, 26.6, 26.6, 26.6, 26.6, 26.6, 26.6, 26.6, 26.6, 26.6, 26.6, 26.6, 26.6,
  26.6, 26.6, 26.6, 26.6, 26.6, 26.6, 26.6, 26.6, 26.6, 26.6, 26.6, 26.6, 26.6, 26.6,
  26.6
]

const BOX_COLOR = '#1F5E8C'
const TOXIC_FILL = '#EAA6A6'
const THERAPEUTIC_FILL = '#80DB9F'
const GRID_COLOR = '#E2E2E2'
const FONT = '"Liberation Sans", Arial, Helvetica, sans-serif'

// facet layout (pixels)
const colLeft = [167, 945, 1724, 2503]
const panelWidth = 759
const rowTop = [92, 823]
const rowHeight = [722, 724]
const stripTop = 27
const stripHeight = 65

const rows = [
  {
    title: 'Cyclosporine Ctrough (ng/mL)',
    min: 2.26, max: 1770,
    ticks: cycTicks, minor: cycMinorBreaks,
    stats: [
      [cycNoneLo, cycNoneQ1, cycNoneMed, cycNoneQ3, cycNoneHi],
      [cycIvLo, cycIvQ1, cycIvMed, cycIvQ3, cycIvHi],
      [cycQ2wLo, cycQ2wQ1, cycQ2wMed, cycQ2wQ3, cycQ2wHi],
      [cycQwLo, cycQwQ1, cycQwMed, cycQwQ3, cycQwHi]
    ]
  },
  {
    title: 'Theophylline Ctrough (mg/L)',
    min: 0.45, max: 37.3,
    ticks: theoTicks, minor: theoMinorBreaks,
    stats: [
      [theoNoneLo, theoNoneQ1, theoNoneMed, theoNoneQ3, theoNoneHi],
      [theoIvLo, theoIvQ1, theoIvMed, theoIvQ3, theoIvHi],
      [theoQ2wLo, theoQ2wQ1, theoQ2wMed, theoQ2wQ3, theoQ2wHi],
      [theoQwLo, theoQwQ1, theoQwMed, theoQwQ3, theoQwHi]
    ]
  }
]

function renderBox (params, api) {
  const day = api.value(0)
  const lo = api.coord([day, api.value(1)])
  const q1 = api.coord([day, api.value(2)])
  const med = api.coord([day, api.value(3)])
  const q3 = api.coord([day, api.value(4)])
  const hi = api.coord([day, api.value(5)])
  const half = api.size([1, 0], [day, 10])[0] * 0.375
  const x = med[0]
  const thin = { stroke: BOX_COLOR, lineWidth: 2.5 }
  return {
    type: 'group',
    children: [
      { type: 'line', shape: { x1: x, y1: hi[1], x2: x, y2: q3[1] }, style: thin },
      { type: 'line', shape: { x1: x, y1: q1[1], x2: x, y2: lo[1] }, style: thin },
      {
        type: 'rect',
        shape: { x: x - half, y: q3[1], width: half * 2, height: q1[1] - q3[1] },
        style: { fill: 'none', stroke: BOX_COLOR, lineWidth: 2.5 }
      },
      {
        type: 'line',
        shape: { x1: x - half, y1: med[1], x2: x + half, y2: med[1] },
        style: { stroke: BOX_COLOR, lineWidth: 4.5 }
      }
    ]
  }
}

const dashed = { color: GRID_COLOR, width: 1.6, type: [3, 3] }
const grids = []
const xAxes = []
const yAxes = []
const series = []
const graphics = []

rows.forEach((row, r) => {
  colLeft.forEach((left, c) => {
    const p = r * 4 + c
    grids.push({
      left, top: rowTop[r], width: panelWidth, height: rowHeight[r],
      show: true, backgroundColor: '#fff', borderColor: '#BDBDBD', borderWidth: 2,
      outerBoundsMode: 'none'
    })
    xAxes.push({
      type: 'value', gridIndex: p, min: 0.5, max: 85.5,
      axisLine: { show: false },
      axisTick: { show: true, customValues: dayTicks, length: 7, lineStyle: { color: '#333', width: 2 } },
      axisLabel: {
        show: r === 1, customValues: dayTicks, margin: 16,
        fontSize: 31, color: '#4D4D4D', fontFamily: FONT
      },
      splitLine: { show: true, lineStyle: dashed }
    })
    yAxes.push({
      type: 'log', logBase: 10, gridIndex: p, min: row.min, max: row.max,
      name: c === 0 ? row.title : '',
      nameLocation: 'middle', nameGap: 97,
      nameTextStyle: { fontSize: 44, fontWeight: 'bold', color: '#000', fontFamily: FONT },
      axisLine: { show: false },
      axisTick: { show: c === 0, customValues: row.ticks, length: 8, lineStyle: { color: '#333', width: 2 } },
      axisLabel: {
        show: c === 0, customValues: row.ticks, margin: 17,
        formatter: v => String(v), fontSize: 31, color: '#4D4D4D', fontFamily: FONT
      },
      splitLine: { show: true, lineStyle: dashed }
    })
    // minor breaks of the log scale, drawn as a second, invisible axis
    yAxes.push({
      type: 'log', logBase: 10, gridIndex: p, min: row.min, max: row.max,
      axisLine: { show: false },
      axisTick: { show: false, customValues: row.minor },
      axisLabel: { show: false, customValues: row.minor },
      splitLine: { show: true, lineStyle: { color: GRID_COLOR, width: 1.3, type: [3, 3] } }
    })

    const [lo, q1, med, q3, hi] = row.stats[c]
    ;[lo, q1, med, q3, hi].forEach(a => {
      if (a.length !== days.length) throw new Error('panel ' + p + ' has ' + a.length + ' values')
    })
    const data = days.map((d, i) => [d, lo[i], q1[i], med[i], q3[i], hi[i]])

    const bands = r === 0
      ? [
          [{ yAxis: cycToxicRange[0], itemStyle: { color: TOXIC_FILL } }, { yAxis: cycToxicRange[1] }],
          [{ yAxis: cycTherapeuticRange[0], itemStyle: { color: THERAPEUTIC_FILL } }, { yAxis: cycTherapeuticRange[1] }]
        ]
      : [
          [{ yAxis: theoTherapeuticRange[0], itemStyle: { color: THERAPEUTIC_FILL } }, { yAxis: theoTherapeuticRange[1] }]
        ]

    const s = {
      type: 'custom',
      name: treatments[c],
      xAxisIndex: p,
      yAxisIndex: p * 2,
      renderItem: renderBox,
      encode: { x: 0, y: [1, 2, 3, 4, 5] },
      clip: true,
      data,
      markArea: { silent: true, data: bands }
    }
    if (r === 1) {
      s.markLine = {
        silent: true, symbol: 'none', label: { show: false },
        lineStyle: { color: '#FF0000', width: 4, type: 'solid' },
        data: [{ yAxis: theoToxicLimit }]
      }
    }
    series.push(s)

    if (r === 0) {
      graphics.push({
        type: 'rect',
        shape: { x: left, y: stripTop, width: panelWidth, height: stripHeight },
        style: { fill: '#D9D9D9' }
      })
      graphics.push({
        type: 'text',
        x: left + panelWidth / 2,
        y: stripTop + stripHeight / 2,
        style: {
          text: treatments[c], fill: '#1A1A1A',
          font: 'bold 38px ' + FONT, align: 'center', verticalAlign: 'middle'
        }
      })
    }
  })
})

graphics.push({
  type: 'text',
  x: (colLeft[0] + colLeft[3] + panelWidth) / 2,
  y: 1621,
  style: {
    text: 'Time (day)', fill: '#000',
    font: 'bold 44px ' + FONT, align: 'center', verticalAlign: 'middle'
  }
})

const chart = echarts.init(document.getElementById('chart'), null, { renderer: 'canvas' })
chart.setOption({
  backgroundColor: '#fff',
  animation: false,
  grid: grids,
  xAxis: xAxes,
  yAxis: yAxes,
  series,
  graphic: graphics
})
</script>
</body>
</html>
